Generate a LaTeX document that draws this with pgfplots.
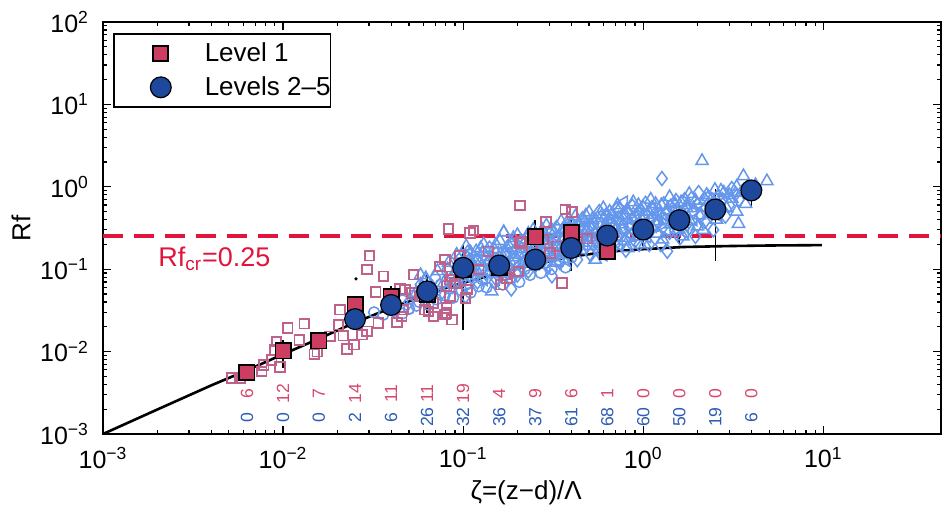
\documentclass[border=0pt]{standalone}
\usepackage{fontspec}
\setmainfont{Liberation Sans}
\usepackage{pgfplots}
\pgfplotsset{compat=1.18}
\usepackage{pgfplotstable}

\definecolor{crim}{RGB}{226,20,60}
\definecolor{sqfill}{RGB}{204,61,97}
\definecolor{sqlight}{RGB}{190,98,140}
\definecolor{cloud}{RGB}{100,150,235}
\definecolor{circfill}{RGB}{30,72,155}
\definecolor{cntred}{RGB}{216,72,108}
\definecolor{cntblue}{RGB}{45,92,182}
\tikzset{cloudmark/.style={draw=cloud, line width=0.75pt, fill=none}}

% Level 1 bin means with error (ep = up, em = down)
\pgfplotstableread{
x      y       ep      em
0.0063 0.0056  0       0
0.0100 0.0102  0.0037  0.0039
0.0158 0.0135  0.0036  0.0041
0.0251 0.0370  0.0060  0.0050
0.0398 0.0470  0.0150  0.0090
0.0631 0.0500  0.0200  0.0150
0.1000 0.1000  0.0300  0.0300
0.1585 0.1060  0.0300  0.0300
0.2512 0.2470  0.1530  0.0890
0.3981 0.2770  0.1840  0.0770
0.6310 0.1650  0.0250  0.0250
}\levelone

% Levels 2-5 bin means with error
\pgfplotstableread{
x      y       ep      em
0.0251 0.0248  0.0032  0.0028
0.0398 0.0368  0.0062  0.0058
0.0631 0.0538  0.0362  0.0244
0.1000 0.1040  0.0950  0.0856
0.1585 0.1110  0.0350  0.0480
0.2512 0.1310  0.0290  0.0410
0.3981 0.1810  0.0690  0.0870
0.6310 0.2560  0.0440  0.0560
1.0000 0.3030  0.0800  0.1160
1.5850 0.3940  0.1880  0.1890
2.5120 0.5310  0.4170  0.4060
3.9810 0.9030  0.2670  0.3230
}\levelsup

\pgfplotstableread{
x      y
0.001  0.00100
0.002  0.00198
0.004  0.00390
0.0065 0.00610
0.010  0.00930
0.016  0.01450
0.025  0.02250
0.040  0.03400
0.063  0.04900
0.085  0.06200
0.120  0.07600
0.160  0.09000
0.245  0.11300
0.390  0.14100
0.630  0.16300
1.000  0.17500
1.670  0.18600
3.000  0.19100
5.000  0.19400
9.800  0.19600
}\fitcurve

\pgfplotstableread{
x      y        lab
0.0063 0.0031   6
0.0100 0.0031   12
0.0158 0.0031   7
0.0251 0.0031   14
0.0398 0.0031   11
0.0631 0.0031   11
0.1000 0.0031   19
0.1585 0.0031   4
0.2512 0.0031   9
0.3981 0.0031   6
0.6310 0.0031   1
1.0000 0.0031   0
1.5850 0.0031   0
2.5120 0.0031   0
3.9810 0.0031   0
}\countred

\pgfplotstableread{
x      y        lab
0.0063 0.00160  0
0.0100 0.00160  0
0.0158 0.00160  0
0.0251 0.00160  2
0.0398 0.00160  6
0.0631 0.00160  26
0.1000 0.00160  32
0.1585 0.00160  36
0.2512 0.00160  37
0.3981 0.00160  61
0.6310 0.00160  68
1.0000 0.00160  60
1.5850 0.00160  50
2.5120 0.00160  19
3.9810 0.00160  6
}\countblue

\begin{document}
\begin{tikzpicture}
\begin{axis}[
  scale only axis, width=419pt, height=206pt,
  xmode=log, ymode=log,
  xmin=0.001, xmax=45, ymin=0.001, ymax=100,
  axis line style={black, line width=0.8pt},
  tick style={black, line width=0.6pt},
  major tick length=3.8pt, minor tick length=2.2pt,
  tick pos=both, tick align=inside,
  xtick={0.001,0.01,0.1,1,10},
  xticklabels={10\textsuperscript{−3},10\textsuperscript{−2},10\textsuperscript{−1},10\textsuperscript{0},10\textsuperscript{1}},
  ytick={0.001,0.01,0.1,1,10,100},
  yticklabels={10\textsuperscript{−3},10\textsuperscript{−2},10\textsuperscript{−1},10\textsuperscript{0},10\textsuperscript{1},10\textsuperscript{2}},
  ticklabel style={font=\fontsize{12.5}{14}\selectfont},
  xticklabel style={yshift=-3pt},
  yticklabel style={xshift=-3.5pt},
  xlabel={ζ=(z−d)/Λ},
  ylabel={Rf},
  every axis x label/.style={at={(axis description cs:0.505,-0.1432)}, anchor=center, font=\fontsize{13}{15}\selectfont},
  every axis y label/.style={at={(axis description cs:-0.0979,0.5)}, anchor=center, rotate=90, font=\fontsize{13}{15}\selectfont},
  legend style={at={(axis description cs:0,1)}, anchor=north west, xshift=5pt, yshift=-5.5pt,
    draw=black, line width=0.8pt, inner xsep=0pt, inner ysep=1.75pt,
    font=\fontsize{13}{15}\selectfont, column sep=9.5pt, row sep=1pt,
    nodes={inner sep=0pt}},
  legend cell align=left,
  legend image code/.code={%
    \pgfpathrectangle{\pgfpoint{0pt}{-8pt}}{\pgfpoint{36pt}{16pt}}\pgfusepath{use as bounding box}%
    \draw[mark repeat=2,mark phase=2,#1] plot coordinates {(0pt,0pt) (23.5pt,0pt) (36pt,0pt)};},
]

% ---- Levels 2-5 individual points (light blue) ----
\addplot[forget plot, only marks, mark=triangle, mark size=3.5pt, mark options={cloudmark}] coordinates {
(0.055,0.052) (0.062,0.075) (0.068,0.058) (0.072,0.095) (0.078,0.068) (0.083,0.12) (0.088,0.085) (0.092,0.15)
(0.097,0.11) (0.104,0.19) (0.108,0.13) (0.113,0.092) (0.118,0.165) (0.124,0.12) (0.13,0.2) (0.135,0.14)
(0.142,0.105) (0.148,0.175) (0.155,0.125) (0.16,0.22) (0.168,0.28) (0.172,0.155) (0.18,0.11) (0.186,0.2)
(0.195,0.14) (0.2,0.26) (0.21,0.175) (0.218,0.12) (0.225,0.23) (0.235,0.155) (0.245,0.3) (0.252,0.2)
(0.26,0.13) (0.27,0.26) (0.28,0.17) (0.29,0.34) (0.3,0.22) (0.31,0.14) (0.32,0.28) (0.335,0.19)
(0.35,0.38) (0.36,0.24) (0.375,0.15) (0.39,0.32) (0.405,0.21) (0.42,0.44) (0.435,0.28) (0.45,0.17)
(0.47,0.37) (0.49,0.24) (0.5,0.49) (0.52,0.31) (0.54,0.19) (0.56,0.42) (0.58,0.27) (0.6,0.55)
(0.62,0.35) (0.64,0.21) (0.67,0.47) (0.7,0.3) (0.72,0.6) (0.75,0.38) (0.78,0.22) (0.81,0.52)
(0.85,0.33) (0.88,0.65) (0.92,0.42) (0.96,0.25) (1.0,0.56) (1.05,0.36) (1.1,0.7) (1.15,0.46)
(1.2,0.27) (1.26,0.6) (1.32,0.4) (1.4,0.75) (1.48,0.5) (1.55,0.3) (1.62,0.65) (1.7,0.44)
(1.8,0.82) (1.9,0.55) (2.0,0.33) (2.12,2.06) (2.2,0.7) (2.35,0.48) (2.5,0.92) (2.65,0.6)
(3.0,0.8) (3.38,0.356) (3.6,1.35) (3.3,1.0) (4.86,1.17) (0.54,0.131) (0.144,0.054) (0.168,0.281)
(0.058,0.085) (0.062,0.078) (0.11,0.16) (0.125,0.18) (0.23,0.27) (0.44,0.33) (0.66,0.4) (0.95,0.5)
(1.25,0.45) (1.75,0.6) (2.3,0.75) (2.8,0.85) (0.82,0.18) (0.15,0.09) (0.33,0.12)
(0.105,0.14) (0.115,0.11) (0.128,0.16) (0.138,0.12) (0.152,0.2) (0.165,0.13) (0.175,0.18) (0.19,0.24)
(0.205,0.15) (0.215,0.2) (0.23,0.12) (0.24,0.25) (0.26,0.2) (0.275,0.3) (0.285,0.22) (0.3,0.16)
(0.31,0.3) (0.325,0.23) (0.34,0.17) (0.355,0.3) (0.37,0.2) (0.385,0.4) (0.4,0.27) (0.42,0.18)
(0.44,0.36) (0.46,0.25) (0.48,0.45) (0.5,0.21) (0.52,0.4) (0.55,0.3) (0.57,0.2) (0.59,0.45)
(0.62,0.26) (0.65,0.5) (0.68,0.33) (0.71,0.24) (0.74,0.55) (0.77,0.35) (0.8,0.45) (0.84,0.24)
(0.87,0.4) (0.9,0.3) (0.94,0.6) (0.98,0.4) (1.02,0.2) (1.07,0.5) (1.12,0.32) (1.17,0.62)
(1.22,0.38) (1.28,0.23) (1.35,0.52) (1.42,0.35) (1.5,0.62) (1.58,0.42) (1.66,0.25) (1.74,0.55)
(1.82,0.38) (1.95,0.68) (2.05,0.45) (2.15,0.3) (2.25,0.8) (2.4,0.55) (2.55,0.4) (2.7,0.9)
(2.9,0.55) (3.1,0.72) (3.3,0.5) (3.5,0.85) (3.7,0.62) (4.2,1.05)
};
\addplot[forget plot, only marks, mark=diamond, mark size=3.5pt, mark options={cloudmark}] coordinates {
(0.05,0.04) (0.058,0.065) (0.064,0.045) (0.07,0.08) (0.075,0.05) (0.082,0.1) (0.087,0.062) (0.095,0.13)
(0.1,0.078) (0.103,0.047) (0.106,0.16) (0.112,0.1) (0.12,0.07) (0.126,0.14) (0.133,0.09) (0.14,0.18)
(0.146,0.115) (0.153,0.075) (0.162,0.15) (0.17,0.1) (0.178,0.19) (0.185,0.0575) (0.19,0.13) (0.2,0.085)
(0.21,0.22) (0.22,0.145) (0.23,0.095) (0.24,0.19) (0.255,0.26) (0.265,0.12) (0.275,0.21) (0.29,0.15)
(0.3,0.28) (0.311,0.083) (0.315,0.18) (0.33,0.32) (0.345,0.12) (0.36,0.22) (0.37,0.29) (0.385,0.16)
(0.4,0.36) (0.415,0.25) (0.43,0.13) (0.445,0.19) (0.46,0.41) (0.48,0.28) (0.51,0.15) (0.53,0.36)
(0.55,0.23) (0.57,0.5) (0.59,0.16) (0.61,0.3) (0.65,0.41) (0.68,0.18) (0.71,0.53) (0.74,0.26)
(0.77,0.45) (0.8,0.17) (0.83,0.34) (0.87,0.58) (0.9,0.22) (0.94,0.48) (0.98,0.3) (1.03,0.63)
(1.08,0.2) (1.13,0.52) (1.18,0.34) (1.27,1.26) (1.3,0.62) (1.36,0.165) (1.45,0.38) (1.52,0.68)
(1.6,0.24) (1.68,0.52) (1.75,0.35) (1.85,0.72) (1.95,0.25) (2.03,0.85) (2.1,0.45) (2.3,0.62)
(2.45,0.3) (2.6,0.75) (2.86,0.44) (3.1,0.95) (3.4,0.7) (3.8,1.0) (0.5,0.33) (0.62,0.45)
(1.12,0.42) (1.4,0.28) (0.27,0.17) (0.16,0.12) (0.092,0.09) (0.7,0.36) (1.9,0.5) (2.7,0.65)
(0.108,0.085) (0.118,0.13) (0.13,0.105) (0.145,0.14) (0.158,0.1) (0.172,0.16) (0.182,0.12) (0.198,0.18)
(0.215,0.12) (0.228,0.18) (0.245,0.14) (0.26,0.24) (0.28,0.13) (0.295,0.2) (0.32,0.15) (0.34,0.24)
(0.36,0.17) (0.38,0.34) (0.4,0.2) (0.42,0.28) (0.45,0.23) (0.47,0.32) (0.5,0.26) (0.53,0.2)
(0.56,0.35) (0.6,0.24) (0.63,0.38) (0.66,0.28) (0.7,0.2) (0.73,0.42) (0.77,0.3) (0.82,0.5)
(0.86,0.26) (0.9,0.43) (0.95,0.2) (1.0,0.45) (1.06,0.3) (1.12,0.56) (1.2,0.38) (1.25,0.2)
(1.33,0.47) (1.42,0.58) (1.5,0.3) (1.6,0.45) (1.7,0.7) (1.8,0.32) (2.0,0.6) (2.2,0.38)
(2.4,0.7) (2.55,0.52) (2.75,0.7) (3.0,0.6) (3.25,0.82) (3.6,0.9)
};
\addplot[forget plot, only marks, mark=triangle, mark size=3.5pt, mark options={cloudmark, rotate=90}] coordinates {
(0.09,0.07) (0.11,0.12) (0.13,0.075) (0.15,0.16) (0.17,0.09) (0.19,0.17) (0.21,0.105) (0.24,0.23)
(0.26,0.16) (0.29,0.11) (0.33,0.25) (0.37,0.13) (0.41,0.3) (0.47,0.2) (0.53,0.27) (0.6,0.15)
(0.66,0.36) (0.73,0.2) (0.78,0.65) (0.84,0.27) (0.92,0.36) (1.05,0.25) (1.2,0.45) (1.35,0.3)
(1.5,0.55) (1.7,0.28) (1.9,0.4) (2.2,0.55) (2.6,0.45)
};
\addplot[forget plot, only marks, mark=o, mark size=2.7pt, mark options={cloudmark}] coordinates {
(0.032,0.03) (0.036,0.028) (0.041,0.031) (0.046,0.029) (0.05,0.033) (0.055,0.036)
(0.042,0.035) (0.046,0.042) (0.05,0.033) (0.053,0.048) (0.057,0.04) (0.06,0.056) (0.064,0.037) (0.067,0.05)
(0.071,0.043) (0.075,0.065) (0.079,0.048) (0.084,0.058) (0.088,0.045) (0.093,0.07) (0.098,0.055) (0.104,0.065)
(0.11,0.052) (0.116,0.085) (0.122,0.062) (0.128,0.075) (0.135,0.06) (0.142,0.09) (0.15,0.07) (0.158,0.085)
(0.166,0.065) (0.175,0.1) (0.185,0.078) (0.195,0.09) (0.205,0.07) (0.22,0.1) (0.235,0.085) (0.25,0.11)
(0.27,0.09) (0.29,0.12) (0.31,0.1) (0.34,0.13) (0.37,0.105) (0.4,0.14)
};

% ---- Level 1 individual points (light crimson) ----
\addplot[forget plot, only marks, mark=square, mark size=2.4pt, mark options={draw=sqlight, line width=0.9pt, fill=none}] coordinates {
(0.0052,0.00476) (0.00577,0.00476) (0.0076,0.00573) (0.0078,0.0069) (0.00865,0.00794) (0.0096,0.0065)
(0.0090,0.0105) (0.0092,0.0133) (0.0106,0.0193) (0.0123,0.0139) (0.0131,0.0218) (0.0149,0.0093)
(0.0155,0.0100) (0.0182,0.0153) (0.0203,0.0212) (0.0207,0.0323) (0.0216,0.0156) (0.0226,0.0107)
(0.0248,0.0121) (0.0274,0.0160) (0.0292,0.0176) (0.0257,0.0222) (0.0338,0.0222) (0.0428,0.0226)
(0.0466,0.0323) (0.0292,0.099) (0.0302,0.146) (0.0361,0.082) (0.0327,0.053) (0.0447,0.0575)
(0.0519,0.0515) (0.0577,0.0468) (0.0615,0.0323) (0.0684,0.0389) (0.081,0.0294) (0.0847,0.0468)
(0.0794,0.131) (0.096,0.144) (0.0745,0.108) (0.122,0.099) (0.138,0.165) (0.0865,0.082)
(0.090,0.068) (0.053,0.086) (0.081,0.062) (0.0684,0.0267) (0.0865,0.0244) (0.0828,0.309)
(0.114,0.295) (0.207,0.594) (0.369,0.531) (0.289,0.372) (0.207,0.209) (0.0847,0.0747)
(0.105,0.0565) (0.103,0.0448) (0.081,0.0338) (0.0794,0.028) (0.0642,0.0307) (0.0476,0.0565)
(0.0456,0.0267) (0.353,0.068) (0.279,0.229) (0.241,0.182) (0.203,0.094) (0.175,0.078)
(0.161,0.065) (0.402,0.492) (0.212,0.218) (0.171,0.086) (0.332,0.19) (0.304,0.158)
(0.486,0.234) (0.109,0.276)
};

% ---- fitted curve ----
\addplot[forget plot, black, line width=1.3pt, mark=none] table[x=x,y=y] {\fitcurve};

% ---- critical Rf ----
\addplot[forget plot, crim, line width=2pt, dash pattern=on 10pt off 5.5pt, mark=none] coordinates {(0.001,0.25) (45,0.25)};

% stray dot
\addplot[forget plot, only marks, mark=*, mark size=0.6pt, black] coordinates {(0.0254,0.0762)};

% ---- Level 1 bin means ----
\addplot[forget plot, only marks, mark=none, error bars/.cd, y dir=both, y explicit, error mark=none,
  error bar style={black, line width=0.8pt}] table[x=x, y=y, y error plus=ep, y error minus=em] {\levelone};
\addplot[only marks, mark=square*, mark size=3.8pt, mark options={fill=sqfill, draw=black, line width=0.9pt}] table[x=x,y=y] {\levelone};
\addlegendentry{Level 1}

% ---- Levels 2-5 bin means ----
\addplot[forget plot, only marks, mark=none, error bars/.cd, y dir=both, y explicit, error mark=none,
  error bar style={black, line width=0.8pt}] table[x=x, y=y, y error plus=ep, y error minus=em] {\levelsup};
\addplot[only marks, mark=*, mark size=5.2pt, mark options={fill=circfill, draw=black, line width=0.6pt}] table[x=x,y=y] {\levelsup};
\addlegendentry{Levels 2–5}

% ---- counts ----
\addplot[forget plot, only marks, mark=*, mark size=0pt, mark options={draw=none, fill=none},
  nodes near coords, point meta=explicit symbolic,
  every node near coord/.append style={anchor=center, rotate=90, text=cntred, font=\fontsize{8.8}{10}\selectfont, inner sep=0pt}]
  table[x=x, y=y, meta=lab] {\countred};
\addplot[forget plot, only marks, mark=*, mark size=0pt, mark options={draw=none, fill=none},
  nodes near coords, point meta=explicit symbolic,
  every node near coord/.append style={anchor=center, rotate=90, text=cntblue, font=\fontsize{8.8}{10}\selectfont, inner sep=0pt}]
  table[x=x, y=y, meta=lab] {\countblue};

\node[anchor=base west, text=crim, font=\fontsize{13.5}{16}\selectfont, inner sep=0pt] at (axis cs:0.00202,0.108) {Rf\textsubscript{cr}=0.25};

\coordinate (bl) at (rel axis cs:0,0);
\coordinate (tr) at (rel axis cs:1,1);
\end{axis}
\pgfresetboundingbox
\path[use as bounding box] ([xshift=-51.5pt,yshift=-40.5pt]bl) rectangle ([xshift=0.5pt,yshift=11pt]tr);
\end{tikzpicture}
\end{document}
